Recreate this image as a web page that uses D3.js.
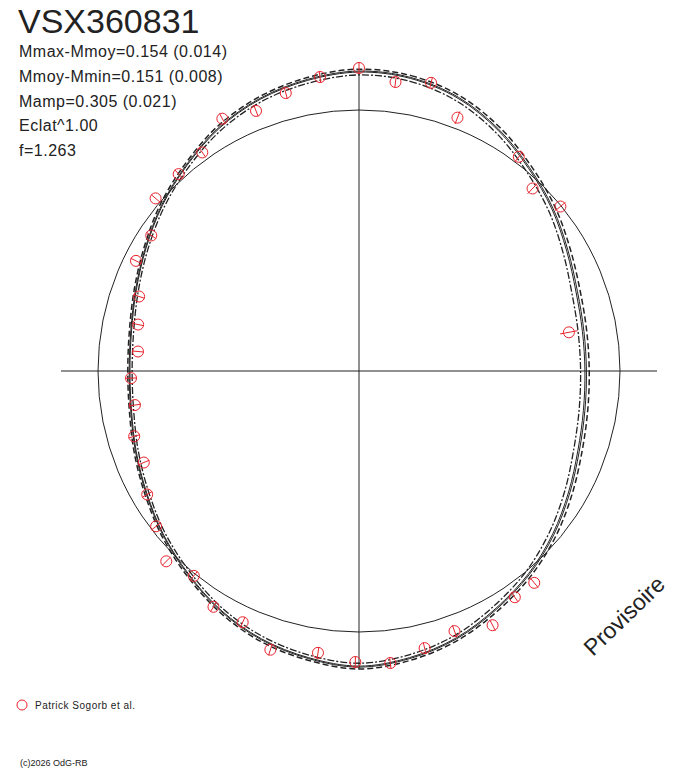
<!DOCTYPE html>
<html>
<head>
<meta charset="utf-8">
<script src="https://cdn.jsdelivr.net/npm/d3@7"></script>
<style>
  html, body { margin: 0; padding: 0; background: #fff; }
  svg { display: block; }
</style>
</head>
<body>
<svg id="chart" width="688" height="768"></svg>
<script>
// ---- DATA ----
const starName = "VSX360831";
const statLines = [
  "Mmax-Mmoy=0.154 (0.014)",
  "Mmoy-Mmin=0.151 (0.008)",
  "Mamp=0.305 (0.021)",
  "Eclat^1.00",
  "f=1.263"
];
const mMaxMinusMoy = 0.154;

// fitted curve: brightness relative to mean (mag), every 10 deg of phase
const fitPhase = d3.range(36).map(i => i / 36);
const fitMag = [
  0.158, 0.150, 0.121, 0.071, 0.013, -0.038, -0.088, -0.125, -0.142,
  -0.146, -0.138, -0.117, -0.079, -0.033, 0.013, 0.054, 0.096, 0.125,
  0.142, 0.125, 0.100, 0.063, 0.017, -0.025, -0.067, -0.100, -0.125,
  -0.133, -0.125, -0.100, -0.063, -0.017, 0.029, 0.079, 0.117, 0.142
];
const fitSigma = [
  0.012, 0.012, 0.013, 0.014, 0.015, 0.016, 0.017, 0.018, 0.018,
  0.018, 0.018, 0.018, 0.017, 0.016, 0.014, 0.013, 0.012, 0.012,
  0.012, 0.011, 0.011, 0.010, 0.010, 0.009, 0.009, 0.009, 0.009,
  0.009, 0.009, 0.009, 0.009, 0.010, 0.010, 0.011, 0.011, 0.012
];

// observations (Patrick Sogorb et al.)
const obsPhase = [
  0.000, 0.020, 0.039, 0.059, 0.102, 0.121, 0.141, 0.221, 0.390, 0.404,
  0.423, 0.444, 0.463, 0.483, 0.502, 0.523, 0.549, 0.569, 0.588, 0.608,
  0.626, 0.646, 0.666, 0.686, 0.705, 0.726, 0.745, 0.764, 0.783, 0.802,
  0.823, 0.842, 0.862, 0.882, 0.901, 0.921, 0.940, 0.959, 0.979
];
const obsMag = [
  0.175, 0.126, 0.150, 0.045, 0.026, -0.038, -0.004, -0.198, 0.058, 0.057,
  0.109, 0.067, 0.099, 0.136, 0.125, 0.099, 0.131, 0.066, 0.067, 0.009,
  0.041, -0.023, -0.066, -0.113, -0.112, -0.143, -0.137, -0.163, -0.147, -0.120,
  -0.051, -0.054, 0.024, 0.025, 0.033, 0.108, 0.078, 0.110, 0.148
];
const obsErr = [
  0.022, 0.024, 0.024, 0.028, 0.025, 0.030, 0.027, 0.037, 0.025, 0.024,
  0.025, 0.026, 0.024, 0.024, 0.024, 0.024, 0.024, 0.024, 0.024, 0.024,
  0.024, 0.024, 0.024, 0.024, 0.024, 0.024, 0.024, 0.024, 0.024, 0.024,
  0.024, 0.024, 0.024, 0.024, 0.024, 0.024, 0.024, 0.024, 0.024
];
const observer = "Patrick Sogorb et al.";
const watermark = "Provisoire";
const credit = "(c)2026 OdG-RB";

// ---- DRAW ----
const svg = d3.select("#chart");
const cx = 359, cy = 371;
const ink = "#222";
const red = "#e8222c";

const r = d3.scaleLinear().domain([0, mMaxMinusMoy]).range([261, 298]);
const g = svg.append("g").attr("transform", `translate(${cx},${cy})`);

const R = r(mMaxMinusMoy);
// axes
g.append("line").attr("x1", -R).attr("x2", R).attr("y1", 0).attr("y2", 0)
  .attr("stroke", ink).attr("stroke-width", 1);
g.append("line").attr("x1", 0).attr("x2", 0).attr("y1", -R).attr("y2", R)
  .attr("stroke", ink).attr("stroke-width", 1);
// mean circle
g.append("circle").attr("r", r(0)).attr("fill", "none")
  .attr("stroke", ink).attr("stroke-width", 1);

const fit = fitPhase.map((p, i) => ({ p, m: fitMag[i], s: fitSigma[i] }));
const mkLine = off => d3.lineRadial()
  .angle(d => d.p * 2 * Math.PI)
  .radius(d => r(d.m + off(d)))
  .curve(d3.curveCatmullRomClosed.alpha(0.5));

const variants = [
  { off: d => -d.s, dash: "7,2,2,2", w: 1.3 },
  { off: d => 0, dash: null, w: 1 },
  { off: d => d.s * 0.35, dash: null, w: 1 },
  { off: d => d.s, dash: "6,3", w: 1.5 }
];
variants.forEach(v => {
  g.append("path").datum(fit)
    .attr("d", mkLine(v.off))
    .attr("fill", "none")
    .attr("stroke", ink)
    .attr("stroke-width", v.w)
    .attr("stroke-dasharray", v.dash);
});

// observations
const obs = obsPhase.map((p, i) => ({ p, m: obsMag[i], e: obsErr[i] }));
const pg = g.append("g");
obs.forEach(d => {
  const a = d.p * 2 * Math.PI;
  const sx = Math.sin(a), sy = -Math.cos(a);
  const r0 = r(d.m), r1 = r(d.m - d.e), r2 = r(d.m + d.e);
  pg.append("line")
    .attr("x1", r1 * sx).attr("y1", r1 * sy)
    .attr("x2", r2 * sx).attr("y2", r2 * sy)
    .attr("stroke", red).attr("stroke-width", 1);
  pg.append("circle")
    .attr("cx", r0 * sx).attr("cy", r0 * sy).attr("r", 5.5)
    .attr("fill", "none").attr("stroke", red).attr("stroke-width", 1);
});

// texts
const font = "Liberation Sans, Arial, sans-serif";
svg.append("text").attr("x", 18).attr("y", 33).text(starName)
  .attr("font-family", font).attr("font-size", 34).attr("fill", ink);
svg.selectAll("text.stat").data(statLines).join("text")
  .attr("class", "stat")
  .attr("x", 19).attr("y", (d, i) => 57 + i * 24.8)
  .attr("font-family", font).attr("font-size", 16)
  .attr("letter-spacing", "0.5px")
  .attr("fill", ink).text(d => d);

svg.append("text")
  .attr("transform", "translate(593,657) rotate(-44)")
  .attr("font-family", font).attr("font-size", 23).attr("fill", ink)
  .text(watermark);

svg.append("circle").attr("cx", 22).attr("cy", 705).attr("r", 5)
  .attr("fill", "none").attr("stroke", red).attr("stroke-width", 1);
svg.append("text").attr("x", 35).attr("y", 709)
  .attr("font-family", font).attr("font-size", 10)
  .attr("letter-spacing", "0.5px").attr("fill", ink).text(observer);
svg.append("text").attr("x", 20).attr("y", 766)
  .attr("font-family", font).attr("font-size", 9)
  .attr("fill", ink).text(credit);
</script>
</body>
</html>
